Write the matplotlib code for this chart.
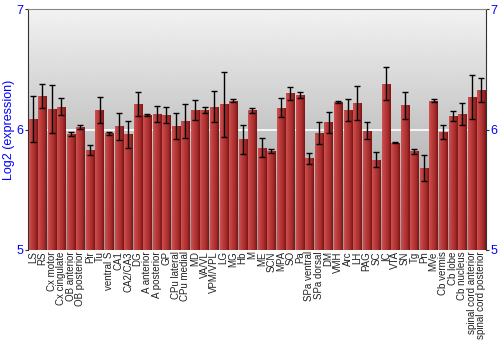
import numpy as np
import matplotlib
matplotlib.use('Agg')
import matplotlib.pyplot as plt

plt.rcParams['font.family'] = ['Liberation Sans', 'DejaVu Sans']

regions = ['LS', 'RS', 'Cx motor', 'Cx cingulate', 'OB anterior', 'OB posterior', 'Pir', 'Tu',
           'ventral S', 'CA1', 'CA2/CA3', 'DG', 'A anterior', 'A posterior', 'GP', 'CPu lateral',
           'CPu medial', 'MD', 'VA/VL', 'VPM/VPL', 'LG', 'MG', 'Hb', 'M', 'ME', 'SCN', 'MPA', 'SO',
           'Pa', 'SPa ventral', 'SPa dorsal', 'DM', 'VMH', 'Arc', 'LH', 'PAG', 'SC', 'IC', 'VTA',
           'SN', 'Tg', 'Pn', 'MVe', 'Cb vermis', 'Cb lobe', 'Cb nucleus', 'spinal cord anterior',
           'spinal cord posterior']
expr = [6.09, 6.28, 6.17, 6.19, 5.965, 6.02, 5.83, 6.16,
        5.97, 6.025, 5.96, 6.21, 6.12, 6.13, 6.12, 6.03,
        6.07, 6.16, 6.16, 6.19, 6.21, 6.24, 5.92, 6.16, 5.85, 5.82, 6.18, 6.30,
        6.29, 5.76, 5.97, 6.06, 6.23, 6.16, 6.22, 5.99, 5.75, 6.38, 5.89,
        6.20, 5.82, 5.68, 6.24, 5.98, 6.11, 6.13, 6.27,
        6.33]
err = [0.19, 0.10, 0.20, 0.07, 0.015, 0.018, 0.04, 0.11,
       0.013, 0.11, 0.11, 0.10, 0.008, 0.065, 0.065, 0.11,
       0.14, 0.085, 0.025, 0.13, 0.27, 0.012, 0.12, 0.02, 0.08, 0.015, 0.08, 0.055,
       0.025, 0.045, 0.09, 0.085, 0.008, 0.09, 0.14, 0.07, 0.065, 0.135, 0.006,
       0.11, 0.02, 0.105, 0.01, 0.055, 0.04, 0.09, 0.18,
       0.10]

fig = plt.figure(figsize=(5, 3.5), dpi=100)
ax = fig.add_axes([0.056, 0.286, 0.916, 0.688])
x = np.arange(len(regions))
ax.set_xlim(-0.5, len(regions) - 0.5)
ax.set_ylim(5, 7)

# background gradient, light at top
grad = np.linspace(0.60, 0.95, 256).reshape(-1, 1)
ax.imshow(grad, cmap='gray', vmin=0, vmax=1, aspect='auto', origin='lower',
          extent=[-0.5, len(regions) - 0.5, 5, 7], zorder=0)
ax.axhline(6, color='white', lw=1.2, zorder=1)

# bars with horizontal shading
bar_cmap = matplotlib.colors.LinearSegmentedColormap.from_list(
    'bar', ['#cc5252', '#ba3c3c', '#a82e2e', '#7a1515'])
shade = np.linspace(0, 1, 64).reshape(1, -1)
bars = ax.bar(x, np.array(expr) - 5, bottom=5, width=0.86, color='#b03535', zorder=2)
for b in bars:
    x0, w = b.get_x(), b.get_width()
    im = ax.imshow(shade, cmap=bar_cmap, aspect='auto',
                   extent=[x0, x0 + w, 5, 5 + b.get_height()], zorder=3)
    im.set_clip_path(b)
ax.errorbar(x, expr, yerr=err, fmt='none', ecolor='black', elinewidth=1,
            capsize=2, capthick=1, zorder=4)

ax.set_xticks(x)
ax.set_xticklabels(regions, rotation=90, fontsize=7, color='#222222')
ax.tick_params(axis='x', length=0, pad=1)
ax.set_yticks([5, 6, 7])
ax.tick_params(axis='y', labelcolor='blue', labelsize=9, length=2, pad=1,
               color='#333333', right=True, labelright=True)
ax.set_ylabel('Log2 (expression)', color='blue', fontsize=9, labelpad=1)
ax.spines['top'].set_color('#888888')
ax.spines['bottom'].set_visible(False)
for s in ['left', 'right']:
    ax.spines[s].set_color('#333333')

fig.savefig('out.png', dpi=100)
